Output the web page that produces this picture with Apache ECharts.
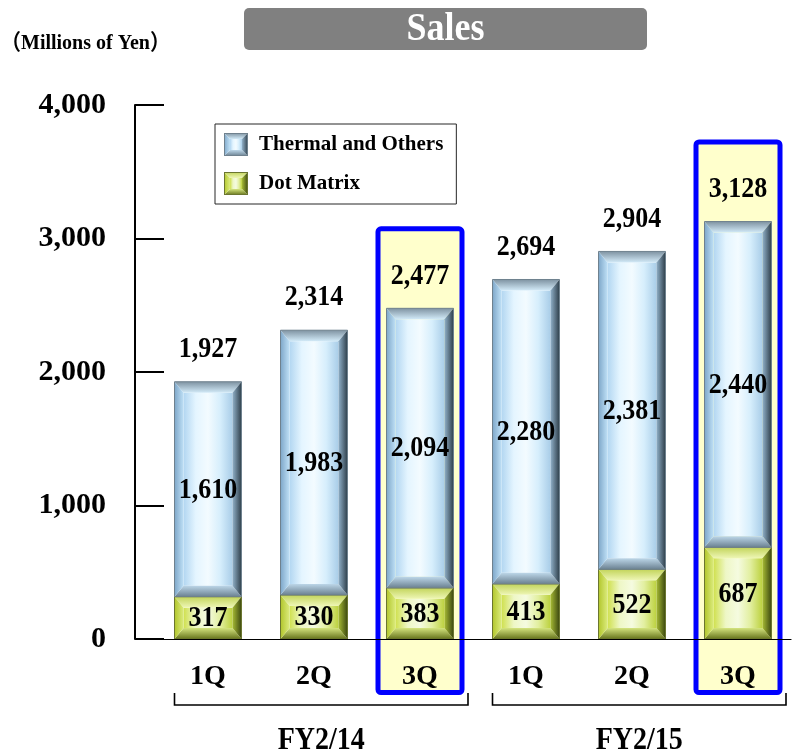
<!DOCTYPE html>
<html>
<head>
<meta charset="utf-8">
<title>Sales</title>
<script src="https://cdn.jsdelivr.net/npm/echarts@6/dist/echarts.min.js"></script>
<style>
  html, body { margin: 0; padding: 0; background: #fff; }
  #chart { width: 792px; height: 751px; }
</style>
</head>
<body>
<div id="chart"></div>
<script>
// Quarterly sales, millions of yen
const categories = ['1Q', '2Q', '3Q', '1Q', '2Q', '3Q'];
const dotMatrix = [317, 330, 383, 413, 522, 687];
const thermalOthers = [1610, 1983, 2094, 2280, 2381, 2440];
const totals = [1927, 2314, 2477, 2694, 2904, 3128];
const highlighted = [2, 5];
const fiscalYears = ['FY2/14', 'FY2/15'];
const yearSpans = [[0, 2], [3, 5]];
const yMax = 4000;
const yStep = 1000;

const SERIF = '"Liberation Serif", "Times New Roman", serif';
const BAR_RATIO = 0.632;
const TEXT_STRETCH = 1.1;   // slightly taller glyphs for the value labels
const fmt = v => Math.round(v).toLocaleString('en-US');

// bevel palettes: face / side gradients for each stack segment
const thermalPalette = {
  face: ['#b2d6f1', '#e4f5ff', '#f3fbff', '#d6eefc', '#a9cde8'],
  left: ['#7ea7c9', '#bfe0f6'],
  right: ['#90b0c8', '#2f3f4b'],
  top: ['#7f93a2', '#d2eaf8'],
  bottom: ['#bcd6e8', '#6b8191'],
  edge: '#6f818e'
};
const dotPalette = {
  face: ['#cfe04e', '#eef7c6', '#f5fbe0', '#e2efa0', '#bcd13e'],
  left: ['#b2c62c', '#dbeb7c'],
  right: ['#a6ba34', '#3c4810'],
  top: ['#c2d45a', '#eef6b6'],
  bottom: ['#d4e47e', '#66741c'],
  edge: '#6b7630'
};

function lin(horizontal, colors) {
  return {
    type: 'linear', x: 0, y: 0, x2: horizontal ? 1 : 0, y2: horizontal ? 0 : 1,
    colorStops: colors.map((c, k) => ({ offset: k / (colors.length - 1), color: c }))
  };
}

// text element stretched vertically around its anchor point
function label(text, x, y, size, extra) {
  return Object.assign({
    type: 'text',
    x: x, y: y, scaleY: TEXT_STRETCH,
    style: { text: text, x: 0, y: 0, align: 'center', verticalAlign: 'middle',
             font: 'bold ' + size + 'px ' + SERIF, fill: '#000' }
  }, extra || {});
}

// legend swatch drawn as a small bevelled square
function bevelIcon(pal, w, h) {
  const c = document.createElement('canvas');
  c.width = w; c.height = h;
  const g = c.getContext('2d');
  const b = 6;
  const grad = (horizontal, colors, x0, y0, x1, y1) => {
    const gr = horizontal ? g.createLinearGradient(x0, 0, x1, 0) : g.createLinearGradient(0, y0, 0, y1);
    colors.forEach((col, k) => gr.addColorStop(k / (colors.length - 1), col));
    return gr;
  };
  const poly = (pts, fill) => {
    g.beginPath();
    pts.forEach((p, k) => k ? g.lineTo(p[0], p[1]) : g.moveTo(p[0], p[1]));
    g.closePath();
    g.fillStyle = fill;
    g.fill();
  };
  poly([[b, b], [w - b, b], [w - b, h - b], [b, h - b]], grad(true, pal.face, b, 0, w - b, 0));
  poly([[0, 0], [w, 0], [w - b, b], [b, b]], grad(false, pal.top, 0, 0, 0, b));
  poly([[0, h], [w, h], [w - b, h - b], [b, h - b]], grad(false, pal.bottom, 0, h - b, 0, h));
  poly([[0, 0], [b, b], [b, h - b], [0, h]], grad(true, pal.left, 0, 0, b, 0));
  poly([[w, 0], [w - b, b], [w - b, h - b], [w, h]], grad(true, pal.right, w - b, 0, w, 0));
  g.strokeStyle = pal.edge;
  g.lineWidth = 1;
  g.strokeRect(0.5, 0.5, w - 1, h - 1);
  return 'image://' + c.toDataURL();
}

// one stacked segment: [category, low, high, value]
function segmentRenderer(pal) {
  return function (params, api) {
    const i = api.value(0), lo = api.value(1), hi = api.value(2), v = api.value(3);
    const top = api.coord([i, hi]);
    const bot = api.coord([i, lo]);
    const w = api.size([1, 0])[0] * BAR_RATIO;
    const x0 = top[0] - w / 2, x1 = top[0] + w / 2, y0 = top[1], y1 = bot[1];
    const bx = 9, by = Math.min(11, (y1 - y0) / 3.5);
    const poly = (pts, fill) => ({ type: 'polygon', shape: { points: pts }, style: { fill: fill } });
    return {
      type: 'group',
      children: [
        poly([[x0 + bx, y0 + by], [x1 - bx, y0 + by], [x1 - bx, y1 - by], [x0 + bx, y1 - by]], lin(true, pal.face)),
        poly([[x0, y0], [x1, y0], [x1 - bx, y0 + by], [x0 + bx, y0 + by]], lin(false, pal.top)),
        poly([[x0, y1], [x1, y1], [x1 - bx, y1 - by], [x0 + bx, y1 - by]], lin(false, pal.bottom)),
        poly([[x0, y0], [x0 + bx, y0 + by], [x0 + bx, y1 - by], [x0, y1]], lin(true, pal.left)),
        poly([[x1, y0], [x1 - bx, y0 + by], [x1 - bx, y1 - by], [x1, y1]], lin(true, pal.right)),
        { type: 'rect', shape: { x: x0, y: y0, width: w, height: y1 - y0 },
          style: { fill: 'none', stroke: pal.edge, lineWidth: 1 } },
        label(fmt(v), top[0], (y0 + y1) / 2 + 1, 26, { z2: 10 })
      ]
    };
  };
}

const dotData = dotMatrix.map((v, i) => [i, 0, v, v]);
const thermalData = thermalOthers.map((v, i) => [i, dotMatrix[i], dotMatrix[i] + v, v]);
const totalData = totals.map((t, i) => [i, t]);
const boxData = highlighted.map(i => [i, totals[i]]);
const spanData = yearSpans.map((s, k) => [s[0], s[1], k]);

const chart = echarts.init(document.getElementById('chart'), null, { renderer: 'canvas' });

const option = {
  animation: false,
  backgroundColor: '#fff',
  grid: { left: 155, right: 1, top: 105, bottom: 112, containLabel: false },
  legend: {
    orient: 'vertical',
    left: 215, top: 124,
    padding: [9, 13, 9, 9],
    itemGap: 16,
    itemWidth: 24, itemHeight: 23,
    backgroundColor: '#fff',
    borderColor: '#262626', borderWidth: 1,
    selectedMode: false,
    textStyle: { fontFamily: SERIF, fontWeight: 'bold', fontSize: 21, color: '#000',
                 padding: [0, 0, 0, 6] },
    data: [
      { name: 'Thermal and Others', icon: bevelIcon(thermalPalette, 24, 23) },
      { name: 'Dot Matrix', icon: bevelIcon(dotPalette, 24, 23) }
    ]
  },
  xAxis: {
    type: 'category',
    data: categories,
    z: 5,
    axisLine: { show: true, lineStyle: { color: '#000', width: 1.2 } },
    axisTick: { show: false },
    axisLabel: { margin: 24, fontFamily: SERIF, fontWeight: 'bold', fontSize: 28, color: '#000' }
  },
  yAxis: {
    type: 'value',
    min: 0, max: yMax, interval: yStep,
    offset: 20,
    z: 5,
    splitLine: { show: false },
    axisLine: { show: true, lineStyle: { color: '#000', width: 2 } },
    axisTick: { show: true, inside: true, length: 29, lineStyle: { color: '#000', width: 2 } },
    axisLabel: { margin: 29, fontFamily: SERIF, fontWeight: 'bold', fontSize: 30, color: '#000',
                 formatter: v => fmt(v) }
  },
  graphic: [
    { type: 'rect', id: 'titleBox', left: 244, top: 8, z: 10,
      shape: { width: 403, height: 42, r: 5 }, style: { fill: '#808080' } },
    { type: 'text', id: 'titleText', x: 445.5, y: 30, z: 11, scaleY: TEXT_STRETCH,
      style: { text: 'Sales', x: 0, y: 0, align: 'center', verticalAlign: 'middle',
               font: 'bold 36px ' + SERIF, fill: '#fff' } },
    { type: 'text', id: 'unit', x: 1, y: 43, z: 10, scaleY: TEXT_STRETCH,
      style: { text: '（Millions of Yen）', x: 0, y: 0, align: 'left', verticalAlign: 'middle',
               font: 'bold 20px "Liberation Serif", "Noto Sans CJK JP", serif', fill: '#000' } }
  ],
  series: [
    {
      // highlight frame behind the latest quarter of each year
      type: 'custom', name: 'frame', z: 1, clip: false, silent: true,
      encode: { x: 0, y: 1 },
      data: boxData,
      renderItem: function (params, api) {
        const p = api.coord([api.value(0), api.value(1)]);
        const base = api.coord([api.value(0), 0]);
        const w = 84;
        const yTop = p[1] - 79.5;
        return {
          type: 'rect',
          shape: { x: p[0] - w / 2, y: yTop, width: w, height: base[1] + 53.5 - yTop, r: 3 },
          style: { fill: '#ffffcc', stroke: '#0000ff', lineWidth: 5 }
        };
      }
    },
    {
      type: 'custom', name: 'Dot Matrix', z: 2, clip: false,
      encode: { x: 0, y: [1, 2] },
      data: dotData,
      renderItem: segmentRenderer(dotPalette)
    },
    {
      type: 'custom', name: 'Thermal and Others', z: 2, clip: false,
      encode: { x: 0, y: [1, 2] },
      data: thermalData,
      renderItem: segmentRenderer(thermalPalette)
    },
    {
      // totals above each stack
      type: 'custom', name: 'total', z: 3, clip: false, silent: true,
      encode: { x: 0, y: 1 },
      data: totalData,
      renderItem: function (params, api) {
        const p = api.coord([api.value(0), api.value(1)]);
        return label(fmt(api.value(1)), p[0], p[1] - 32, 26);
      }
    },
    {
      // fiscal-year brackets under the quarter labels
      type: 'custom', name: 'years', z: 3, clip: false, silent: true,
      encode: { x: [0, 1] },
      data: spanData,
      renderItem: function (params, api) {
        const l = api.coord([api.value(0), 0]);
        const r = api.coord([api.value(1), 0]);
        const w = api.size([1, 0])[0] * BAR_RATIO;
        const x0 = l[0] - w / 2, x1 = r[0] + 48, y = l[1] + 66;
        return {
          type: 'group',
          children: [
            { type: 'polyline', shape: { points: [[x0, y - 12], [x0, y], [x1, y], [x1, y - 12]] },
              style: { stroke: '#000', lineWidth: 1.6, fill: 'none' } },
            label(fiscalYears[api.value(2)], (x0 + x1) / 2, y + 36, 28)
          ]
        };
      }
    }
  ]
};

chart.setOption(option);

// carry the baseline left to meet the offset value axis
const baseY = chart.convertToPixel({ yAxisIndex: 0 }, 0);
chart.setOption({
  graphic: [
    { type: 'line', id: 'baseExt', z: 10,
      shape: { x1: 155 - 20, y1: baseY, x2: 156, y2: baseY },
      style: { stroke: '#000', lineWidth: 1.2 } }
  ]
});
</script>
</body>
</html>
